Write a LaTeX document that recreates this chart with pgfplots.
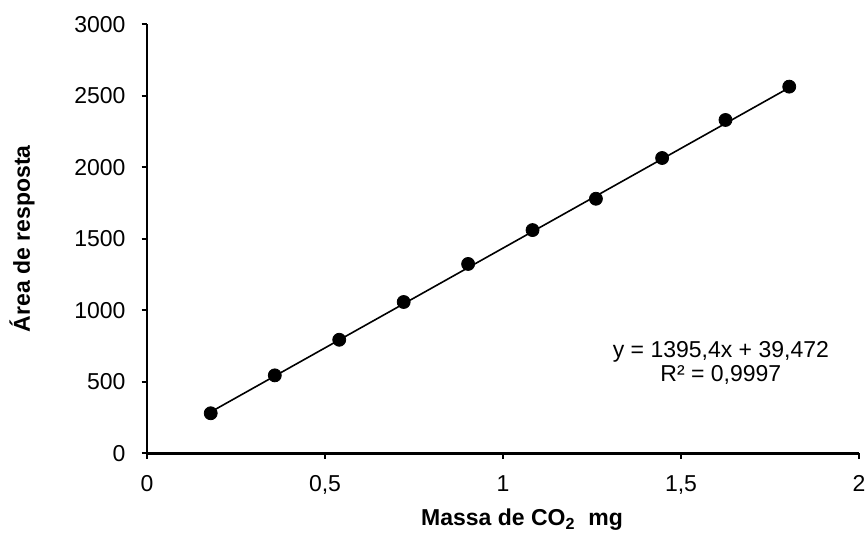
\documentclass[border=0pt]{standalone}
\usepackage{fontspec}
\setmainfont{Liberation Sans}
\usepackage{pgfplots}
\pgfplotsset{compat=1.18}
\begin{document}
\fontsize{11.5}{13.8}\selectfont
\begin{tikzpicture}
\path[use as bounding box] (-73.5pt,-40.85pt) rectangle (360pt,226.65pt);
\begin{axis}[
  at={(0,0)}, anchor=south west,
  scale only axis,
  width=356pt, height=214.5pt,
  xmin=0, xmax=2, ymin=0, ymax=3000,
  axis x line=bottom, axis y line=left,
  axis line style={-, line width=1.3pt, black},
  xtick={0,0.5,1,1.5,2},
  ytick={0,500,1000,1500,2000,2500,3000},
  tick align=outside,
  major tick length=2.7pt,
  tick style={black, line width=1.2pt},
  /pgf/number format/use comma,
  /pgf/number format/1000 sep={},
  /pgf/number format/assume math mode=true,
  tick label style={font=\fontsize{11.5}{13.8}\selectfont},
  xticklabel style={anchor=base, yshift=-16.3pt},
  yticklabel style={anchor=east, xshift=-4pt},
  xlabel={\bfseries Massa de CO\textsubscript{2}\ \ mg},
  ylabel={\bfseries Área de resposta},
  label style={font=\fontsize{11.5}{13.8}\selectfont},
  xlabel style={at={(axis description cs:0.5267,0)}, anchor=base, yshift=-36.3pt},
  ylabel style={at={(axis description cs:-0.1756,0.5)}, anchor=center, rotate=0},
  clip=false,
]
\addplot[black, line width=0.8pt, no marks] coordinates {(0.18,290.6) (1.804,2556.7)};
\addplot[only marks, mark=*, mark size=3.25pt, black] coordinates {
  (0.179,280) (0.359,545) (0.540,794) (0.721,1058) (0.902,1324)
  (1.083,1561) (1.261,1780) (1.447,2065) (1.625,2331) (1.804,2564)
};
\node[align=center, font=\fontsize{11.5}{12}\selectfont] at (axis cs:1.612,631) {y = 1395,4x + 39,472\\R² = 0,9997};
\end{axis}
\end{tikzpicture}
\end{document}
